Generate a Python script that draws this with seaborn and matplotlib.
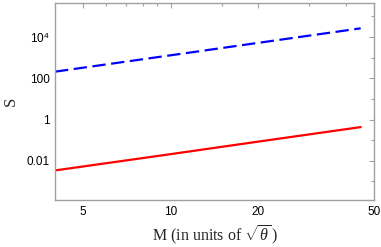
import matplotlib
matplotlib.use('Agg')
import numpy as np
import pandas as pd
import seaborn as sns
from matplotlib import pyplot as plt
from matplotlib.ticker import FixedLocator, NullFormatter

# values (S grows like M^2 on both curves)
mass = [4, 10, 20, 45]
s_upper = [210, 1310, 5250, 26600]
s_lower = [0.0034, 0.021, 0.085, 0.43]

x_major = [5, 10, 20, 50]
x_major_labels = ['5', '10', '20', '50']
x_minor = [6, 7, 8, 9, 15, 30, 40]
y_major = [1e-2, 1, 1e2, 1e4]
y_major_labels = ['0.01', '1', '100', r'$\mathsf{10}^{\mathsf{4}}$']
y_minor = [1e-3, 1e-1, 10, 1e3, 1e5]

sns.set_style('white')
plt.rcParams['font.family'] = ['Liberation Sans', 'DejaVu Sans']
plt.rcParams['mathtext.fontset'] = 'custom'
plt.rcParams['mathtext.rm'] = 'Liberation Serif'
plt.rcParams['mathtext.it'] = 'Liberation Serif:italic'
plt.rcParams['mathtext.sf'] = 'Liberation Sans'

df = pd.DataFrame({'M': mass, 'upper': s_upper, 'lower': s_lower})

fig = plt.figure(figsize=(3.81, 2.47), dpi=100)
ax = fig.add_axes([55 / 381, 47 / 247, 319 / 381, 197 / 247])

sns.lineplot(df, x='M', y='upper', ax=ax, color='blue', lw=1.6,
             linestyle=(0, (6, 2.5)))
sns.lineplot(df, x='M', y='lower', ax=ax, color='red', lw=1.6)

ax.set_xscale('log')
ax.set_yscale('log')
ax.set_xlim(4, 50)
ax.set_ylim(1.25e-4, 4.5e5)

ax.xaxis.set_major_locator(FixedLocator(x_major))
ax.xaxis.set_minor_locator(FixedLocator(x_minor))
ax.set_xticklabels(x_major_labels)
ax.xaxis.set_minor_formatter(NullFormatter())
ax.yaxis.set_major_locator(FixedLocator(y_major))
ax.yaxis.set_minor_locator(FixedLocator(y_minor))
ax.set_yticklabels(y_major_labels)
ax.yaxis.set_minor_formatter(NullFormatter())

ax.tick_params(which='both', direction='in', top=True, right=True,
               color='#a0a0a0', width=0.8, labelsize=8.5, labelcolor='black')
ax.tick_params(which='major', length=3.5, pad=4)
ax.tick_params(which='minor', length=2)

for spine in ax.spines.values():
    spine.set_color('#a0a0a0')
    spine.set_linewidth(1.0)

ax.set_xlabel(r'M (in units of $\sqrt{\theta}\,$)', family='Liberation Serif',
              fontsize=11.5, va='center')
ax.xaxis.set_label_coords(0.5, -0.182)
ax.set_ylabel('S', family='Liberation Serif', fontsize=12, va='center')
ax.yaxis.set_label_coords(-0.138, 0.5)

fig.savefig('out.png', dpi=100)
